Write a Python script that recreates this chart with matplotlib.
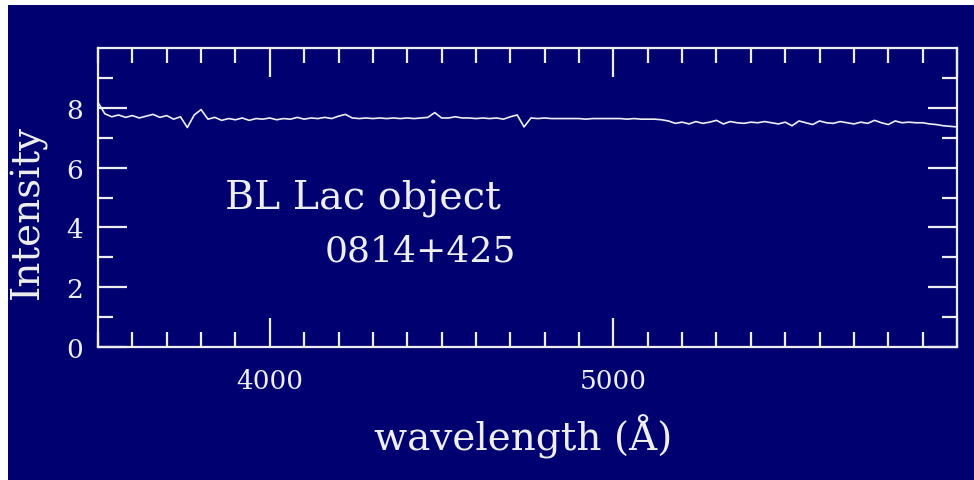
import numpy as np
import matplotlib.pyplot as plt
from matplotlib.patches import Rectangle
from matplotlib.ticker import MultipleLocator, FixedLocator

# spectrum of the BL Lac object, sampled every 20 A
wavelength = [
    3500, 3520, 3540, 3560, 3580, 3600, 3620, 3640, 3660, 3680,
    3700, 3720, 3740, 3760, 3780, 3800, 3820, 3840, 3860, 3880,
    3900, 3920, 3940, 3960, 3980, 4000, 4020, 4040, 4060, 4080,
    4100, 4120, 4140, 4160, 4180, 4200, 4220, 4240, 4260, 4280,
    4300, 4320, 4340, 4360, 4380, 4400, 4420, 4440, 4460, 4480,
    4500, 4520, 4540, 4560, 4580, 4600, 4620, 4640, 4660, 4680,
    4700, 4720, 4740, 4760, 4780, 4800, 4820, 4840, 4860, 4880,
    4900, 4920, 4940, 4960, 4980, 5000, 5020, 5040, 5060, 5080,
    5100, 5120, 5140, 5160, 5180, 5200, 5220, 5240, 5260, 5280,
    5300, 5320, 5340, 5360, 5380, 5400, 5420, 5440, 5460, 5480,
    5500, 5520, 5540, 5560, 5580, 5600, 5620, 5640, 5660, 5680,
    5700, 5720, 5740, 5760, 5780, 5800, 5820, 5840, 5860, 5880,
    5900, 5920, 5940, 5960, 5980, 6000,
]
intensity = [
    8.18, 7.80, 7.70, 7.76, 7.68, 7.74, 7.66, 7.72, 7.78, 7.68,
    7.74, 7.62, 7.70, 7.34, 7.76, 7.94, 7.62, 7.68, 7.58, 7.64,
    7.60, 7.66, 7.58, 7.64, 7.62, 7.66, 7.60, 7.64, 7.62, 7.68,
    7.62, 7.66, 7.64, 7.68, 7.64, 7.72, 7.78, 7.66, 7.64, 7.66,
    7.64, 7.66, 7.64, 7.66, 7.64, 7.66, 7.64, 7.66, 7.68, 7.84,
    7.66, 7.66, 7.70, 7.66, 7.66, 7.64, 7.66, 7.64, 7.66, 7.62,
    7.70, 7.76, 7.36, 7.66, 7.64, 7.66, 7.64, 7.64, 7.64, 7.64,
    7.64, 7.62, 7.64, 7.64, 7.64, 7.64, 7.64, 7.62, 7.64, 7.62,
    7.62, 7.62, 7.60, 7.56, 7.48, 7.52, 7.46, 7.54, 7.48, 7.52,
    7.58, 7.46, 7.54, 7.50, 7.48, 7.52, 7.50, 7.54, 7.50, 7.46,
    7.52, 7.40, 7.56, 7.50, 7.44, 7.56, 7.50, 7.48, 7.54, 7.50,
    7.46, 7.52, 7.48, 7.58, 7.50, 7.44, 7.56, 7.50, 7.52, 7.50,
    7.50, 7.46, 7.44, 7.40, 7.38, 7.36,
]

bg = '#000070'
fg = '#eeeeee'
plt.rcParams['font.family'] = ['DejaVu Serif']

fig = plt.figure(figsize=(9.74, 4.81), dpi=100, facecolor='white')
# dark panel behind the plot
fig.patches.append(Rectangle((8 / 974, 0), 1 - 8 / 974, 1 - 6 / 481,
                             transform=fig.transFigure, facecolor=bg,
                             edgecolor='none', zorder=-1))

ax = fig.add_axes([98 / 974, 133 / 481, (957 - 98) / 974, (348 - 49) / 481])
ax.set_facecolor(bg)
ax.plot(wavelength, intensity, color=fg, lw=1.2)

ax.set_xlim(3500, 6000)
ax.set_ylim(0, 10)
ax.xaxis.set_major_locator(FixedLocator([4000, 5000, 6000]))
ax.xaxis.set_minor_locator(MultipleLocator(100))
ax.set_xticklabels(['4000', '5000', ''])
ax.yaxis.set_major_locator(FixedLocator([0, 2, 4, 6, 8]))
ax.yaxis.set_minor_locator(FixedLocator([1, 3, 5, 7, 9]))

ax.tick_params(which='both', direction='in', top=True, right=True,
               color=fg, labelcolor=fg, width=1.6, labelsize=19)
ax.tick_params(which='major', length=21)
ax.tick_params(which='minor', length=11)
ax.tick_params(axis='x', pad=15)
ax.tick_params(axis='y', pad=11)
for s in ax.spines.values():
    s.set_color(fg)
    s.set_linewidth(1.6)

ax.text(3870, 4.62, 'BL Lac object', color=fg, fontsize=28.5, va='baseline')
ax.text(4160, 2.88, '0814+425', color=fg, fontsize=26, va='baseline')

fig.text(523 / 974, 1 - 437 / 481, 'wavelength (Å)', color=fg, fontsize=28,
         ha='center', va='center')
fig.text(28 / 974, 1 - 212 / 481, 'Intensity', color=fg, fontsize=28,
         ha='center', va='center', rotation=90)

fig.savefig('out.png', dpi=100, facecolor='white')
